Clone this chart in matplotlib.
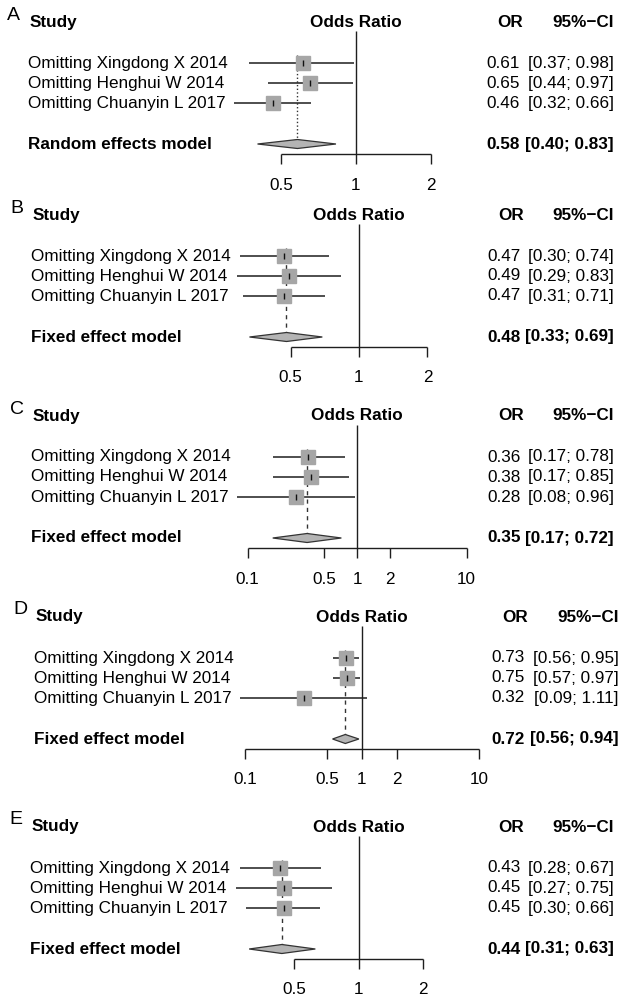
import matplotlib
matplotlib.use("Agg")
import matplotlib.pyplot as plt
import numpy as np

plt.rcParams['font.family'] = ['Liberation Sans', 'DejaVu Sans']

# ---------------- data ----------------
studies = ["Omitting Xingdong X 2014", "Omitting Henghui W 2014", "Omitting Chuanyin L 2017"]
panel_letters = ["A", "B", "C", "D", "E"]
model_labels = ["Random effects model", "Fixed effect model", "Fixed effect model",
                "Fixed effect model", "Fixed effect model"]

or_A = [0.61, 0.65, 0.46]; lo_A = [0.37, 0.44, 0.32]; hi_A = [0.98, 0.97, 0.66]
or_B = [0.47, 0.49, 0.47]; lo_B = [0.30, 0.29, 0.31]; hi_B = [0.74, 0.83, 0.71]
or_C = [0.36, 0.38, 0.28]; lo_C = [0.17, 0.17, 0.08]; hi_C = [0.78, 0.85, 0.96]
or_D = [0.73, 0.75, 0.32]; lo_D = [0.56, 0.57, 0.09]; hi_D = [0.95, 0.97, 1.11]
or_E = [0.43, 0.45, 0.45]; lo_E = [0.28, 0.27, 0.30]; hi_E = [0.67, 0.75, 0.66]

pooled_or = [0.58, 0.48, 0.35, 0.72, 0.44]
pooled_lo = [0.40, 0.33, 0.17, 0.56, 0.31]
pooled_hi = [0.83, 0.69, 0.72, 0.94, 0.63]

ticks_A = [0.5, 1, 2]
ticks_B = [0.5, 1, 2]
ticks_C = [0.1, 0.5, 1, 2, 10]
ticks_D = [0.1, 0.5, 1, 2, 10]
ticks_E = [0.5, 1, 2]

ors = [or_A, or_B, or_C, or_D, or_E]
los = [lo_A, lo_B, lo_C, lo_D, lo_E]
his = [hi_A, hi_B, hi_C, hi_D, hi_E]
ticks = [ticks_A, ticks_B, ticks_C, ticks_D, ticks_E]

# ---------------- layout (pixels) ----------------
W, H = 620, 998
row1_y = [63, 256, 457, 658, 868]
row_step = 20
x_one = [356, 359, 357, 362, 358.5]
px_per_decade = [247.5, 227.5, 109.5, 117.0, 215.0]
label_x = [28, 31, 31, 34, 30]
or_right = [520, 521, 521, 525, 521]
ci_right = [614, 614, 614, 619, 614]

FS = 12.3
line_col = '#1e1e1e'
sq_col = '#a6a6a6'

fig = plt.figure(figsize=(W / 100, H / 100), dpi=100)
overlay = fig.add_axes([0, 0, 1, 1])
overlay.set_xlim(0, W)
overlay.set_ylim(H, 0)
overlay.axis('off')
overlay.patch.set_alpha(0)

for i in range(5):
    r1 = row1_y[i]
    header_y = r1 - 41
    model_y = r1 + 81
    axis_y = r1 + 91
    rows_y = [r1 + row_step * j for j in range(len(studies))]

    ax = fig.add_axes([0, 0, 1, 1])
    ax.set_xscale('log')
    k = px_per_decade[i]
    ax.set_xlim(10 ** ((0 - x_one[i]) / k), 10 ** ((W - x_one[i]) / k))
    ax.set_ylim(H, 0)
    ax.axis('off')
    ax.patch.set_alpha(0)

    # reference line at OR = 1
    ax.vlines(1, header_y + 9, axis_y, color=line_col, lw=1.0)
    # pooled estimate line
    ls = ':' if i == 0 else (0, (3, 3))
    ax.vlines(pooled_or[i], r1 - 8, model_y - 4.5, color='#333333', lw=1.0,
              linestyles=[ls], zorder=1)
    # study CIs and squares
    ax.hlines(rows_y, los[i], his[i], color=line_col, lw=1.1, zorder=2)
    ax.plot(ors[i], rows_y, 's', ms=10.5, color=sq_col, mec=sq_col, zorder=3)
    ax.plot(ors[i], rows_y, '|', ms=4, color='#111111', mew=1.0, zorder=4)
    # diamond
    dh = 4.5
    ax.fill([pooled_lo[i], pooled_or[i], pooled_hi[i], pooled_or[i]],
            [model_y, model_y - dh, model_y, model_y + dh],
            facecolor='#b4b4b4', edgecolor='#333333', lw=0.9, zorder=3)
    # x axis
    t = ticks[i]
    ax.hlines(axis_y, t[0], t[-1], color=line_col, lw=1.0)
    ax.vlines(t, axis_y, axis_y + 10, color=line_col, lw=1.0)
    for tv in t:
        ax.text(tv, axis_y + 31, '%g' % tv, ha='center', va='center', fontsize=FS)

    # texts
    overlay.text(label_x[i] - 21, header_y - 7, panel_letters[i], fontsize=14,
                 ha='left', va='center')
    overlay.text(label_x[i] + 2, header_y, "Study", fontsize=FS, fontweight='bold',
                 ha='left', va='center')
    overlay.text(x_one[i], header_y, "Odds Ratio", fontsize=FS, fontweight='bold',
                 ha='center', va='center')
    overlay.text(or_right[i] + 3, header_y, "OR", fontsize=FS, fontweight='bold',
                 ha='right', va='center')
    overlay.text(ci_right[i], header_y, "95%\u2212CI", fontsize=FS, fontweight='bold',
                 ha='right', va='center')
    for j, name in enumerate(studies):
        overlay.text(label_x[i], rows_y[j], name, fontsize=FS, ha='left', va='center')
        overlay.text(or_right[i], rows_y[j], f"{ors[i][j]:.2f}", fontsize=FS,
                     ha='right', va='center')
        overlay.text(ci_right[i], rows_y[j], f"[{los[i][j]:.2f}; {his[i][j]:.2f}]",
                     fontsize=FS, ha='right', va='center')
    overlay.text(label_x[i], model_y, model_labels[i], fontsize=FS, fontweight='bold',
                 ha='left', va='center')
    overlay.text(or_right[i], model_y, f"{pooled_or[i]:.2f}", fontsize=FS,
                 fontweight='bold', ha='right', va='center')
    overlay.text(ci_right[i], model_y, f"[{pooled_lo[i]:.2f}; {pooled_hi[i]:.2f}]",
                 fontsize=FS, fontweight='bold', ha='right', va='center')

fig.savefig("out.png", dpi=100)
